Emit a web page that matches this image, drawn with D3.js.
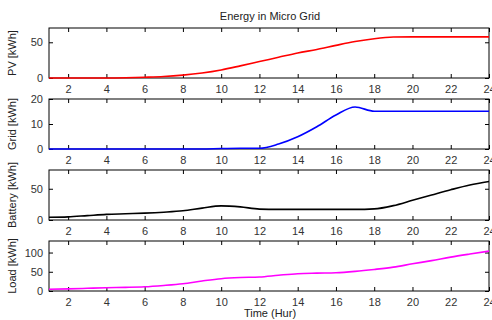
<!DOCTYPE html>
<html>
<head>
<meta charset="utf-8">
<title>Energy in Micro Grid</title>
<script src="https://cdn.jsdelivr.net/npm/d3@7"></script>
<style>
  body { margin: 0; background: #fff; }
  svg text { font-family: "Liberation Sans", Arial, sans-serif; fill: #222; }
</style>
</head>
<body>
<script>
// hours of the day
var hours = [1,2,3,4,5,6,7,8,9,10,11,12,13,14,15,16,17,18,19,20,21,22,23,24];

// series, kWh
var pv      = [0,0,0,0,0.3,1,2,4,7,11.3,17,23,29,35,40,45.7,51,55,57.3,57.6,57.6,57.6,57.6,57.6];
var grid    = [0,0,0,0,0,0,0,0,0,0.2,0.3,0.3,2,4.9,8.9,13.6,16.8,15.1,15.1,15.1,15.1,15.1,15.1,15.1];
var battery = [4.3,5,7,9,10,11,12.5,14.7,19,22.6,21,17.4,17,17,17,17,17,17.8,23,31.5,40,48.4,56,61.5];
var load    = [4.4,5.5,7,8.6,9.5,11,14.5,19,26,32,35,36.5,41,45,46.5,47.5,51,56,62,70.7,79,88,96,103.6];

var xTicks = [2,4,6,8,10,12,14,16,18,20,22,24];

var panels = [
  { label: "PV [kWh]",      values: pv,      max: 70,  ticks: [0,50],     color: "#ff0000", top: 28 },
  { label: "Grid [kWh]",    values: grid,    max: 20,  ticks: [0,10,20],  color: "#0000ff", top: 99 },
  { label: "Battery [kWh]", values: battery, max: 80,  ticks: [0,50],     color: "#000000", top: 170 },
  { label: "Load [kWh]",    values: load,    max: 130, ticks: [0,50,100], color: "#ff00ff", top: 241 }
];

var width = 492, height = 320;
var left = 49, right = 489, ph = 50;

var svg = d3.select("body").append("svg")
  .attr("width", width)
  .attr("height", height);

var x = d3.scaleLinear().domain([1, 24]).range([left, right]);

panels.forEach(function(p) {
  var y = d3.scaleLinear().domain([0, p.max]).range([p.top + ph, p.top]);
  var g = svg.append("g");

  // frame
  g.append("rect")
    .attr("x", left).attr("y", p.top)
    .attr("width", right - left).attr("height", ph)
    .attr("fill", "none").attr("stroke", "#000").attr("stroke-width", 1);

  // bottom axis with labels, inward ticks
  var xb = g.append("g").attr("transform", "translate(0," + (p.top + ph) + ")")
    .call(d3.axisBottom(x).tickValues(xTicks).tickSize(-4).tickPadding(7));
  // top ticks
  var xt = g.append("g").attr("transform", "translate(0," + p.top + ")")
    .call(d3.axisTop(x).tickValues(xTicks).tickSize(-4).tickFormat(""));
  // left axis
  var yl = g.append("g").attr("transform", "translate(" + left + ",0)")
    .call(d3.axisLeft(y).tickValues(p.ticks).tickSize(-4).tickPadding(6));
  // right ticks
  var yr = g.append("g").attr("transform", "translate(" + right + ",0)")
    .call(d3.axisRight(y).tickValues(p.ticks).tickSize(-4).tickFormat(""));

  [xb, xt, yl, yr].forEach(function(a) {
    a.select(".domain").remove();
    a.selectAll("text").attr("font-size", 11).style("fill", "#333");
  });

  var line = d3.line()
    .x(function(d, i) { return x(hours[i]); })
    .y(function(d) { return y(d); })
    .curve(d3.curveMonotoneX);

  g.append("path")
    .datum(p.values)
    .attr("d", line)
    .attr("fill", "none")
    .attr("stroke", p.color)
    .attr("stroke-width", 1.6);

  g.append("text")
    .attr("transform", "translate(16," + (p.top + ph / 2) + ") rotate(-90)")
    .attr("text-anchor", "middle")
    .attr("font-size", 11)
    .text(p.label);
});

svg.append("text")
  .attr("x", 270).attr("y", 20)
  .attr("text-anchor", "middle")
  .attr("font-size", 11)
  .text("Energy in Micro Grid");

svg.append("text")
  .attr("x", 270).attr("y", 317)
  .attr("text-anchor", "middle")
  .attr("font-size", 11)
  .text("Time (Hur)");
</script>
</body>
</html>
